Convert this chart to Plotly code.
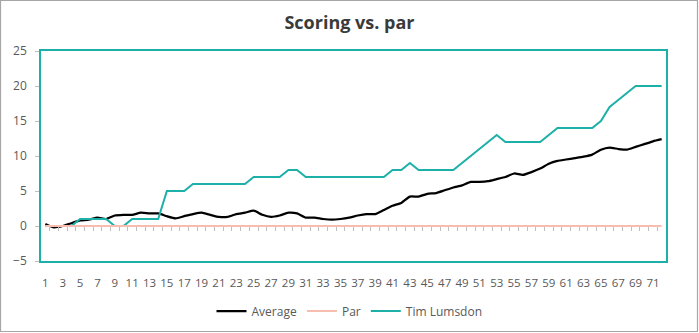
import plotly.graph_objects as go

# Round-by-round scoring relative to par over 72 holes
holes = list(range(1, 73))

average = [
    0.3, -0.2, 0.0, 0.4, 0.8, 0.9, 1.2, 1.0, 1.5, 1.6, 1.6, 1.9,
    1.8, 1.8, 1.4, 1.1, 1.4, 1.7, 1.9, 1.6, 1.3, 1.3, 1.7, 1.9,
    2.2, 1.6, 1.3, 1.5, 1.9, 1.8, 1.2, 1.2, 1.0, 0.9, 1.0, 1.2,
    1.5, 1.7, 1.7, 2.3, 2.9, 3.3, 4.2, 4.2, 4.6, 4.7, 5.1, 5.5,
    5.8, 6.3, 6.3, 6.4, 6.7, 7.0, 7.5, 7.3, 7.7, 8.2, 8.9, 9.3,
    9.5, 9.7, 9.9, 10.2, 10.9, 11.2, 11.0, 10.9, 11.3, 11.7, 12.1, 12.4,
]

par = [0] * 72

tim_lumsdon = [
    0, 0, 0, 0, 1, 1, 1, 1, 0, 0, 1, 1,
    1, 1, 5, 5, 5, 6, 6, 6, 6, 6, 6, 6,
    7, 7, 7, 7, 8, 8, 7, 7, 7, 7, 7, 7,
    7, 7, 7, 7, 8, 8, 9, 8, 8, 8, 8, 8,
    9, 10, 11, 12, 13, 12, 12, 12, 12, 12, 13, 14,
    14, 14, 14, 14, 15, 17, 18, 19, 20, 20, 20, 20,
]

tick_holes = holes[::2]
tick_labels = [str(h) for h in tick_holes]
y_ticks = [-5, 0, 5, 10, 15, 20, 25]

TEAL = "#1DB0A9"
SALMON = "#F7BEAF"
GRID_GRAY = "#BFBFBF"
TEXT_GRAY = "#595959"
FONT = "Open Sans"

W, H = 699, 333
ML, MR, MT, MB = 41, 33, 51, 72
plot_w = W - ML - MR
plot_h = H - MT - MB

fig = go.Figure()

fig.add_trace(go.Scatter(
    x=holes, y=average, name="Average", mode="lines",
    line=dict(color="#000000", width=2.25, shape="spline", smoothing=0.5),
))
fig.add_trace(go.Scatter(
    x=holes, y=par, name="Par", mode="lines", xaxis="x2",
    line=dict(color=SALMON, width=2),
))
fig.add_trace(go.Scatter(
    x=holes, y=tim_lumsdon, name="Tim Lumsdon", mode="lines",
    line=dict(color=TEAL, width=2),
))

y_min, y_max = -5, 25
zero_pos = (0 - y_min) / (y_max - y_min)

# outer chart border, expressed in paper units of the plot area
bx0 = (0.5 - ML) / plot_w
bx1 = (W - 1.5 - ML) / plot_w
by0 = -(H - 1.5 - MT - plot_h) / plot_h
by1 = 1 + (MT - 0.5) / plot_h

fig.update_layout(
    width=W, height=H,
    margin=dict(l=ML, r=MR, t=MT, b=MB, autoexpand=False),
    paper_bgcolor="white", plot_bgcolor="white",
    font=dict(family=FONT, size=12, color=TEXT_GRAY),
    title=dict(
        text="<b>Scoring vs. par</b>",
        x=0.5, xref="container", xanchor="center",
        y=1 - 23 / H, yref="container", yanchor="middle",
        font=dict(family=FONT, size=18, color="#3A3A3A"),
    ),
    showlegend=True,
    legend=dict(
        orientation="h",
        x=0.5, xref="container", xanchor="center",
        y=1 - 311 / H, yref="container", yanchor="middle",
        font=dict(family=FONT, size=12, color=TEXT_GRAY),
        itemwidth=30,
        traceorder="normal",
    ),
    xaxis=dict(
        range=[0.5, 72.5],
        tickmode="array", tickvals=tick_holes, ticktext=tick_labels,
        tickangle=0, ticks="", ticklabelstandoff=10,
        tickfont=dict(family=FONT, size=11.5, color=TEXT_GRAY),
        showgrid=False, zeroline=False,
        showline=True, linecolor=TEAL, linewidth=1.5, mirror=True,
    ),
    xaxis2=dict(
        overlaying="x", anchor="free", position=zero_pos, side="bottom",
        range=[0.5, 72.5],
        tickmode="array", tickvals=[h + 0.5 for h in holes[:-1]],
        ticks="outside", ticklen=4, tickwidth=1, tickcolor=GRID_GRAY,
        showticklabels=False, showgrid=False, zeroline=False, showline=False,
    ),
    yaxis=dict(
        range=[y_min, y_max],
        tickmode="array", tickvals=y_ticks,
        ticks="outside", ticklen=4, tickwidth=1, tickcolor=GRID_GRAY,
        ticklabelstandoff=6,
        tickfont=dict(family=FONT, size=12, color=TEXT_GRAY),
        showgrid=False, zeroline=False,
        showline=True, linecolor=TEAL, linewidth=1.5, mirror=True,
    ),
    shapes=[dict(
        type="rect", xref="paper", yref="paper",
        x0=bx0, x1=bx1, y0=by0, y1=by1,
        line=dict(color="#A6A6A6", width=1.2),
        fillcolor="rgba(0,0,0,0)", layer="below",
    )],
)

fig.write_html("out.html")
